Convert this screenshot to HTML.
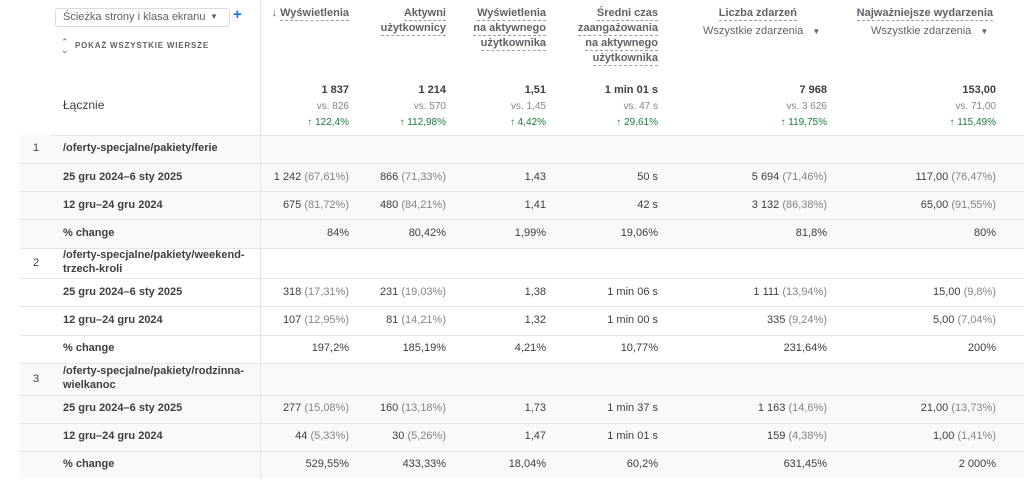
<!DOCTYPE html>
<html><head><meta charset="utf-8"><style>
body{margin:0;width:1024px;height:493px;background:#fff;font-family:"Liberation Sans",sans-serif;color:#3c4043;position:relative;overflow:hidden;font-size:11px}
div{position:absolute;white-space:nowrap}
.t{line-height:14px}
.r{text-align:right}
.b{font-weight:bold;color:#3c4043}
.g{color:#80868b}
.gr{color:#188038}
.bg{background:#f8f9fa}
.hl{border-bottom:1px dashed #9aa0a6;display:inline-block;line-height:14px}
.hd{line-height:15px;text-align:right;font-weight:bold;color:#5f6368}
.ln{height:1px;background:#e3e5e8;left:20px;width:1004px}
</style></head><body>
<div class="bg" style="left:20px;top:135px;width:1004px;height:113px"></div>
<div class="bg" style="left:20px;top:363px;width:1004px;height:115px"></div>
<div style="left:260px;top:0;width:1px;height:478px;background:#e3e5e8"></div>
<div class="ln" style="left:50px;top:135px;width:974px"></div>
<div class="ln" style="top:163px"></div><div class="ln" style="top:191px"></div><div class="ln" style="top:219px"></div><div class="ln" style="top:248px"></div>
<div class="ln" style="top:278px"></div><div class="ln" style="top:306px"></div><div class="ln" style="top:335px"></div><div class="ln" style="top:363px"></div>
<div class="ln" style="top:395px"></div><div class="ln" style="top:423px"></div><div class="ln" style="top:451px"></div>

<div style="left:55px;top:8px;width:173px;height:17px;border:1px solid #dadce0;border-radius:3px"></div>
<div class="t" style="left:63px;top:10px;color:#5f6368;font-size:11px">Ścieżka strony i klasa ekranu</div>
<div style="left:210px;top:10px;color:#5f6368;font-size:8px;line-height:14px">▼</div>
<div style="left:233px;top:6px;color:#1a73e8;font-size:15px;line-height:18px;font-weight:bold">+</div>
<div style="left:61px;top:38px;color:#5f6368;font-size:9px;line-height:8px">⌃<br>⌄</div>
<div class="t" style="left:75px;top:39px;font-size:8px;letter-spacing:0.8px;color:#5f6368;font-weight:bold">POKAŻ WSZYSTKIE WIERSZE</div>

<div class="hd" style="right:675px;top:6px">↓ <span class="hl">Wyświetlenia</span></div>
<div class="hd" style="right:578px;top:6px"><span class="hl">Aktywni</span><br><span class="hl">użytkownicy</span></div>
<div class="hd" style="right:478px;top:6px"><span class="hl">Wyświetlenia</span><br><span class="hl">na aktywnego</span><br><span class="hl">użytkownika</span></div>
<div class="hd" style="right:366px;top:6px"><span class="hl">Średni czas</span><br><span class="hl">zaangażowania</span><br><span class="hl">na aktywnego</span><br><span class="hl">użytkownika</span></div>
<div class="hd" style="right:227px;top:6px"><span class="hl">Liczba zdarzeń</span></div>
<div class="t" style="left:703px;top:24px;color:#5f6368">Wszystkie zdarzenia &nbsp; <span style="font-size:8px">▼</span></div>
<div class="hd" style="right:31px;top:6px"><span class="hl">Najważniejsze wydarzenia</span></div>
<div class="t" style="left:871px;top:24px;color:#5f6368">Wszystkie zdarzenia &nbsp; <span style="font-size:8px">▼</span></div>

<div class="t" style="left:63px;top:98px;font-size:12px">Łącznie</div>
<div class="t r b" style="right:675px;top:83px">1 837</div><div class="t r g" style="right:675px;top:100px;font-size:10px">vs. 826</div><div class="t r gr" style="right:675px;top:116px;font-size:10px">↑ 122,4%</div>
<div class="t r b" style="right:578px;top:83px">1 214</div><div class="t r g" style="right:578px;top:100px;font-size:10px">vs. 570</div><div class="t r gr" style="right:578px;top:116px;font-size:10px">↑ 112,98%</div>
<div class="t r b" style="right:478px;top:83px">1,51</div><div class="t r g" style="right:478px;top:100px;font-size:10px">vs. 1,45</div><div class="t r gr" style="right:478px;top:116px;font-size:10px">↑ 4,42%</div>
<div class="t r b" style="right:366px;top:83px">1 min 01 s</div><div class="t r g" style="right:366px;top:100px;font-size:10px">vs. 47 s</div><div class="t r gr" style="right:366px;top:116px;font-size:10px">↑ 29,61%</div>
<div class="t r b" style="right:197px;top:83px">7 968</div><div class="t r g" style="right:197px;top:100px;font-size:10px">vs. 3 626</div><div class="t r gr" style="right:197px;top:116px;font-size:10px">↑ 119,75%</div>
<div class="t r b" style="right:28px;top:83px">153,00</div><div class="t r g" style="right:28px;top:100px;font-size:10px">vs. 71,00</div><div class="t r gr" style="right:28px;top:116px;font-size:10px">↑ 115,49%</div>

<div class="t" style="left:33px;top:141px">1</div>
<div class="t b" style="left:63px;top:141px">/oferty-specjalne/pakiety/ferie</div>
<div class="t b" style="left:63px;top:170px">25 gru 2024–6 sty 2025</div>
<div class="t b" style="left:63px;top:198px">12 gru–24 gru 2024</div>
<div class="t b" style="left:63px;top:226px">% change</div>
<div class="t r" style="right:675px;top:170px">1 242 <span class="g">(67,61%)</span></div>
<div class="t r" style="right:578px;top:170px">866 <span class="g">(71,33%)</span></div>
<div class="t r" style="right:478px;top:170px">1,43</div>
<div class="t r" style="right:366px;top:170px">50 s</div>
<div class="t r" style="right:197px;top:170px">5 694 <span class="g">(71,46%)</span></div>
<div class="t r" style="right:28px;top:170px">117,00 <span class="g">(76,47%)</span></div>
<div class="t r" style="right:675px;top:198px">675 <span class="g">(81,72%)</span></div>
<div class="t r" style="right:578px;top:198px">480 <span class="g">(84,21%)</span></div>
<div class="t r" style="right:478px;top:198px">1,41</div>
<div class="t r" style="right:366px;top:198px">42 s</div>
<div class="t r" style="right:197px;top:198px">3 132 <span class="g">(86,38%)</span></div>
<div class="t r" style="right:28px;top:198px">65,00 <span class="g">(91,55%)</span></div>
<div class="t r" style="right:675px;top:226px">84%</div>
<div class="t r" style="right:578px;top:226px">80,42%</div>
<div class="t r" style="right:478px;top:226px">1,99%</div>
<div class="t r" style="right:366px;top:226px">19,06%</div>
<div class="t r" style="right:197px;top:226px">81,8%</div>
<div class="t r" style="right:28px;top:226px">80%</div>

<div class="t" style="left:33px;top:256px">2</div>
<div class="t b" style="left:63px;top:248px">/oferty-specjalne/pakiety/weekend-<br>trzech-kroli</div>
<div class="t b" style="left:63px;top:285px">25 gru 2024–6 sty 2025</div>
<div class="t b" style="left:63px;top:313px">12 gru–24 gru 2024</div>
<div class="t b" style="left:63px;top:341px">% change</div>
<div class="t r" style="right:675px;top:285px">318 <span class="g">(17,31%)</span></div>
<div class="t r" style="right:578px;top:285px">231 <span class="g">(19,03%)</span></div>
<div class="t r" style="right:478px;top:285px">1,38</div>
<div class="t r" style="right:366px;top:285px">1 min 06 s</div>
<div class="t r" style="right:197px;top:285px">1 111 <span class="g">(13,94%)</span></div>
<div class="t r" style="right:28px;top:285px">15,00 <span class="g">(9,8%)</span></div>
<div class="t r" style="right:675px;top:313px">107 <span class="g">(12,95%)</span></div>
<div class="t r" style="right:578px;top:313px">81 <span class="g">(14,21%)</span></div>
<div class="t r" style="right:478px;top:313px">1,32</div>
<div class="t r" style="right:366px;top:313px">1 min 00 s</div>
<div class="t r" style="right:197px;top:313px">335 <span class="g">(9,24%)</span></div>
<div class="t r" style="right:28px;top:313px">5,00 <span class="g">(7,04%)</span></div>
<div class="t r" style="right:675px;top:341px">197,2%</div>
<div class="t r" style="right:578px;top:341px">185,19%</div>
<div class="t r" style="right:478px;top:341px">4,21%</div>
<div class="t r" style="right:366px;top:341px">10,77%</div>
<div class="t r" style="right:197px;top:341px">231,64%</div>
<div class="t r" style="right:28px;top:341px">200%</div>

<div class="t" style="left:33px;top:372px">3</div>
<div class="t b" style="left:63px;top:364px">/oferty-specjalne/pakiety/rodzinna-<br>wielkanoc</div>
<div class="t b" style="left:63px;top:401px">25 gru 2024–6 sty 2025</div>
<div class="t b" style="left:63px;top:429px">12 gru–24 gru 2024</div>
<div class="t b" style="left:63px;top:457px">% change</div>
<div class="t r" style="right:675px;top:401px">277 <span class="g">(15,08%)</span></div>
<div class="t r" style="right:578px;top:401px">160 <span class="g">(13,18%)</span></div>
<div class="t r" style="right:478px;top:401px">1,73</div>
<div class="t r" style="right:366px;top:401px">1 min 37 s</div>
<div class="t r" style="right:197px;top:401px">1 163 <span class="g">(14,6%)</span></div>
<div class="t r" style="right:28px;top:401px">21,00 <span class="g">(13,73%)</span></div>
<div class="t r" style="right:675px;top:429px">44 <span class="g">(5,33%)</span></div>
<div class="t r" style="right:578px;top:429px">30 <span class="g">(5,26%)</span></div>
<div class="t r" style="right:478px;top:429px">1,47</div>
<div class="t r" style="right:366px;top:429px">1 min 01 s</div>
<div class="t r" style="right:197px;top:429px">159 <span class="g">(4,38%)</span></div>
<div class="t r" style="right:28px;top:429px">1,00 <span class="g">(1,41%)</span></div>
<div class="t r" style="right:675px;top:457px">529,55%</div>
<div class="t r" style="right:578px;top:457px">433,33%</div>
<div class="t r" style="right:478px;top:457px">18,04%</div>
<div class="t r" style="right:366px;top:457px">60,2%</div>
<div class="t r" style="right:197px;top:457px">631,45%</div>
<div class="t r" style="right:28px;top:457px">2 000%</div>
</body></html>
